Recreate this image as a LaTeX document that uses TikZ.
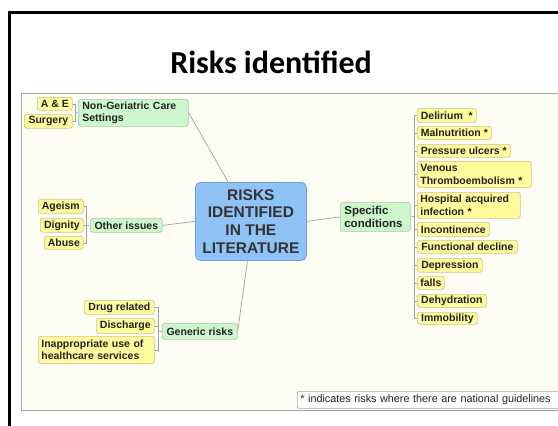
\documentclass[tikz,border=0pt]{standalone}
\usepackage{fontspec}
\setmainfont{Liberation Sans}
\newfontfamily\titlefont{Carlito}
\definecolor{cream}{HTML}{FEFDF4}
\definecolor{areabord}{HTML}{A8A8A0}
\definecolor{yfill}{HTML}{FFFA9C}
\definecolor{ybord}{HTML}{C9C48E}
\definecolor{gfill}{HTML}{CDF6CD}
\definecolor{gbord}{HTML}{A9C9A9}
\definecolor{bfill}{HTML}{8FC2F7}
\definecolor{bbord}{HTML}{6E9FD6}
\definecolor{txt}{HTML}{222222}
\definecolor{ctxt}{HTML}{333333}
\definecolor{conncol}{HTML}{A0A0A0}
\begin{document}
\begin{tikzpicture}[x=1pt,y=-1pt,
  leaf/.style={draw=ybord, fill=yfill, rounded corners=2.5pt, line width=0.7pt,
    font=\fontsize{10.5}{12.3}\selectfont\bfseries, text=txt, inner xsep=1pt, inner ysep=0pt,
    align=left, anchor=north west},
  branch/.style={leaf, draw=gbord, fill=gfill},
  conn/.style={draw=conncol, line width=0.7pt},
]
\useasboundingbox (0,0) rectangle (558,426);
\clip (0,0) rectangle (558,426);
\fill[white] (0,0) rectangle (558,426);
% mind map area
\draw[fill=cream, draw=areabord, line width=0.8pt] (21,93) rectangle (620,410);
% slide frame
\draw[line width=3pt] (9,440) -- (9,12) -- (600,12);
% title
\node[font=\titlefont\bfseries\fontsize{32}{36}\selectfont, anchor=base] (title) at (271,73) {Risks identified};

% central
\node[draw=bbord, fill=bfill, rounded corners=5pt, line width=0.8pt, minimum width=111pt, minimum height=78pt,
  font=\fontsize{15.5}{17.7}\selectfont\bfseries, text=ctxt, align=center, anchor=north west, inner sep=0pt]
  (c) at (195,182) {RISKS\\IDENTIFIED\\IN THE\\LITERATURE};

% branches
\node[branch, inner xsep=4pt, text width=102pt, minimum height=27pt] (ngc) at (78,99) {Non-Geriatric Care\\Settings};
\node[branch, minimum width=72pt, minimum height=14pt] (oth) at (90,218) {Other issues};
\node[branch, minimum width=75pt, minimum height=16pt] (gen) at (162,323) {Generic risks};
\node[branch, inner xsep=4pt, text width=62pt, minimum height=29pt, font=\fontsize{11.5}{12.8}\selectfont\bfseries] (spec) at (340,202) {Specific\\conditions};

% left leaves
\node[leaf, minimum width=35pt, minimum height=13pt] (ae) at (37,97) {A \& E};
\node[leaf, minimum width=48pt, minimum height=14pt] (surg) at (24,114) {Surgery};
\node[leaf, minimum width=45pt, minimum height=14pt] (age) at (38,199) {Ageism};
\node[leaf, minimum width=43pt, minimum height=14pt] (dig) at (40,218) {Dignity};
\node[leaf, minimum width=39pt, minimum height=13pt] (abu) at (44,236) {Abuse};
\node[leaf, minimum width=70pt, minimum height=14pt] (drug) at (84,300) {Drug related};
\node[leaf, minimum width=58pt, minimum height=15pt] (disc) at (96,318) {Discharge};
\node[leaf, inner xsep=3pt, text width=110pt, minimum height=27pt] (inap) at (38,336) {Inappropriate use of\\healthcare services};

% right leaves
\node[leaf, minimum width=59pt, minimum height=14pt] (del) at (417,108) {Delirium~~*};
\node[leaf, minimum width=74pt, minimum height=13pt] (mal) at (417,126) {Malnutrition *};
\node[leaf, minimum width=93pt, minimum height=13pt] (pres) at (417,144) {Pressure ulcers *};
\node[leaf, inner xsep=3pt, text width=108pt, minimum height=26pt] (ven) at (417,161) {Venous\\Thromboembolism *};
\node[leaf, inner xsep=3pt, text width=97pt, minimum height=26pt] (hosp) at (417,192) {Hospital acquired\\infection *};
\node[leaf, minimum width=72pt, minimum height=14pt] (inc) at (417,222) {Incontinence};
\node[leaf, minimum width=100pt, minimum height=13pt] (func) at (417,240) {Functional decline};
\node[leaf, minimum width=65pt, minimum height=14pt] (dep) at (417,258) {Depression};
\node[leaf, minimum width=27pt, minimum height=13pt] (falls) at (417,276) {falls};
\node[leaf, minimum width=69pt, minimum height=13pt] (dehy) at (417,294) {Dehydration};
\node[leaf, minimum width=60pt, minimum height=12pt] (imm) at (417,312) {Immobility};

% footnote
\node[draw=areabord, fill=white, rounded corners=2pt, line width=0.7pt, anchor=north west, inner xsep=3pt, inner ysep=0pt,
  minimum height=17pt, text width=320pt, align=left, font=\fontsize{10.8}{13}\selectfont, text=txt]
  (note) at (297,391) {* indicates risks where there are national guidelines};

% main connectors
\draw[conn] (ngc.east) -- (c.120);
\draw[conn] (oth.east) -- (c.west);
\draw[conn] (gen.east) -- (c.-95);
\draw[conn] (c.east) -- (spec.west);

% brackets
\coordinate (b1) at (75,112.5);
\coordinate (b2) at (86,225);
\coordinate (b3) at (158,331);
\coordinate (b4) at (414,216.5);
\draw[conn] (ngc.west) -- (b1);
\foreach \n in {ae,surg} \draw[conn] (\n.east) -| (b1);
\draw[conn] (oth.west) -- (b2);
\foreach \n in {age,dig,abu} \draw[conn] (\n.east) -| (b2);
\draw[conn] (gen.west) -- (b3);
\foreach \n in {drug,disc,inap} \draw[conn] (\n.east) -| (b3);
\draw[conn] (spec.east) -- (b4);
\foreach \n in {del,mal,pres,ven,hosp,inc,func,dep,falls,dehy,imm} \draw[conn] (\n.west) -| (b4);
\end{tikzpicture}
\end{document}
